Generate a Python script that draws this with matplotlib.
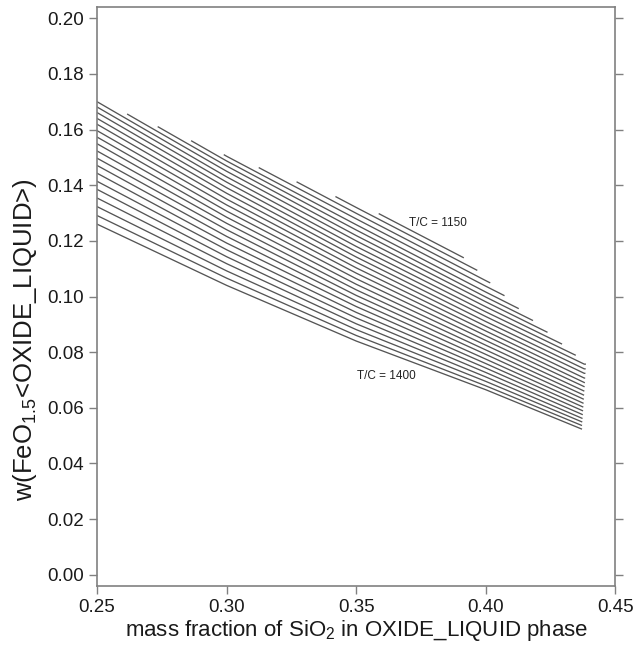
import numpy as np
import matplotlib
matplotlib.use('Agg')
import matplotlib.pyplot as plt

plt.rcParams['font.family'] = ['Liberation Sans', 'DejaVu Sans']

# isotherms, top (1150) to bottom (1400)
temps = list(range(1150, 1401, 10))
x_grid = [0.25, 0.30, 0.35, 0.40, 0.438]
y_lines = [
    [0.1840, 0.1585, 0.1340, 0.1098, 0.0918],
    [0.1823, 0.1565, 0.1320, 0.1078, 0.0898],
    [0.1805, 0.1545, 0.1299, 0.1057, 0.0878],
    [0.1788, 0.1524, 0.1279, 0.1037, 0.0858],
    [0.1770, 0.1504, 0.1258, 0.1016, 0.0838],
    [0.1753, 0.1487, 0.1239, 0.0998, 0.0822],
    [0.1735, 0.1469, 0.1219, 0.0981, 0.0806],
    [0.1718, 0.1450, 0.1200, 0.0963, 0.0790],
    [0.1700, 0.1430, 0.1180, 0.0945, 0.0774],
    [0.1681, 0.1411, 0.1161, 0.0928, 0.0757],
    [0.1661, 0.1391, 0.1142, 0.0910, 0.0740],
    [0.1640, 0.1371, 0.1123, 0.0893, 0.0724],
    [0.1619, 0.1350, 0.1103, 0.0876, 0.0707],
    [0.1596, 0.1329, 0.1084, 0.0859, 0.0691],
    [0.1573, 0.1307, 0.1064, 0.0842, 0.0676],
    [0.1549, 0.1285, 0.1044, 0.0825, 0.0660],
    [0.1523, 0.1263, 0.1024, 0.0808, 0.0645],
    [0.1497, 0.1240, 0.1004, 0.0792, 0.0630],
    [0.1471, 0.1216, 0.0984, 0.0775, 0.0615],
    [0.1443, 0.1192, 0.0964, 0.0759, 0.0601],
    [0.1414, 0.1168, 0.0943, 0.0743, 0.0587],
    [0.1385, 0.1143, 0.0923, 0.0727, 0.0573],
    [0.1354, 0.1118, 0.0902, 0.0711, 0.0559],
    [0.1323, 0.1092, 0.0881, 0.0695, 0.0546],
    [0.1291, 0.1066, 0.0860, 0.0679, 0.0533],
    [0.1260, 0.1040, 0.0840, 0.0665, 0.0520],
]
x_start = [0.3589, 0.3422, 0.3272, 0.3126, 0.2991, 0.2865, 0.2736, 0.2618] + [0.25] * 18
x_end = [0.3913, 0.3965, 0.4015, 0.4070, 0.4125, 0.4180, 0.4236, 0.4292, 0.4345,
         0.4384, 0.4383, 0.4382, 0.4381, 0.4380, 0.4379, 0.4378, 0.4377, 0.4376,
         0.4375, 0.4374, 0.4373, 0.4372, 0.4371, 0.4370, 0.4369, 0.4369]

fig = plt.figure(figsize=(6.43, 6.46), dpi=100)
ax = fig.add_axes([0.151, 0.093, 0.806, 0.896])

for i, T in enumerate(temps):
    xs = [x_start[i]] + [x for x in x_grid if x_start[i] < x < x_end[i]] + [x_end[i]]
    ys = np.interp(xs, x_grid, y_lines[i])
    ax.plot(xs, ys, color='#555555', lw=0.95)

ax.text(0.3815, 0.1265, 'T/C = 1150', fontsize=8.5, ha='center', va='center', color='#222222')
ax.text(0.3615, 0.0715, 'T/C = 1400', fontsize=8.5, ha='center', va='center', color='#222222')

ax.set_xlim(0.25, 0.45)
ax.set_ylim(-0.004, 0.204)
ax.set_xticks([0.25, 0.30, 0.35, 0.40, 0.45])
ax.set_yticks(np.arange(0, 0.201, 0.02))
ax.xaxis.set_major_formatter(plt.FormatStrFormatter('%.2f'))
ax.yaxis.set_major_formatter(plt.FormatStrFormatter('%.2f'))
ax.tick_params(direction='out', length=6, width=1, color='#808080', labelsize=13.5,
               labelcolor='#1a1a1a', top=False, right=True)
for s in ax.spines.values():
    s.set_color('#808080')
    s.set_linewidth(1.2)

ax.set_xlabel(r'mass fraction of SiO$_\mathregular{2}$ in OXIDE_LIQUID phase', fontsize=16, color='#1a1a1a', labelpad=1)
ax.set_ylabel(r'w(FeO$_\mathregular{1.5}$<OXIDE_LIQUID>)', fontsize=18.5, color='#1a1a1a')
ax.yaxis.set_label_coords(-0.112, 0.425)

fig.savefig('out.png', dpi=100)
